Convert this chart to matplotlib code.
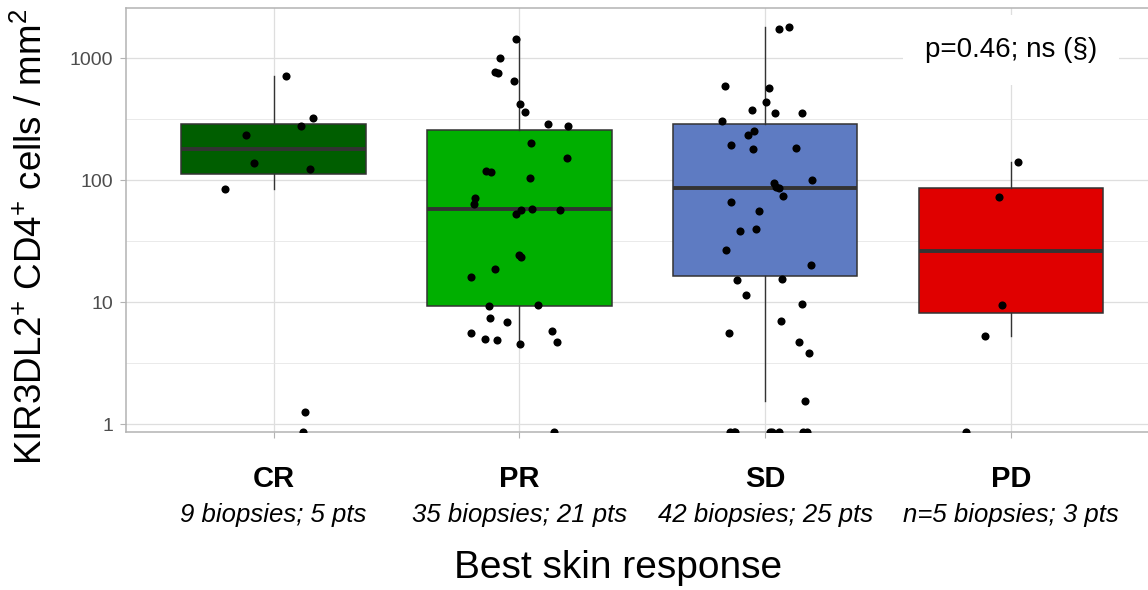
import numpy as np
import matplotlib.pyplot as plt
from matplotlib import cbook
from matplotlib.ticker import FixedLocator, NullFormatter

plt.rcParams['font.family'] = ['Liberation Sans', 'DejaVu Sans']
plt.rcParams['mathtext.fontset'] = 'custom'
plt.rcParams['mathtext.rm'] = 'Liberation Sans'
plt.rcParams['mathtext.it'] = 'Liberation Sans:italic'
plt.rcParams['mathtext.bf'] = 'Liberation Sans:bold'

# valeurs (0 = sous la limite, dessine en bas du panneau)
categories = ['CR', 'PR', 'SD', 'PD']
sublabels = ['9 biopsies; 5 pts', '35 biopsies; 21 pts',
             '42 biopsies; 25 pts', 'n=5 biopsies; 3 pts']
colors = ['#005E00', '#00AF00', '#5E7BC2', '#E00000']

cr_vals = [714, 324, 278, 235, 139, 124, 84, 1.25, 0]
pr_vals = [1441, 996, 751, 774, 646, 424, 362, 280, 289, 203, 152, 116, 119,
           105, 72, 64, 57, 53, 56.5, 58, 23.6, 24.4, 18.6, 16.1, 9.3, 9.5,
           7.45, 6.9, 5.6, 5.8, 5.0, 4.9, 4.7, 4.5, 0]
sd_vals = [1750, 1804, 588, 570, 435, 356, 376, 356, 304, 253, 235, 194, 183,
           180, 101, 94, 88, 85.5, 74, 66, 55.5, 38, 40, 27, 20.2, 15.1, 15.4,
           11.4, 9.6, 7.0, 5.6, 4.7, 3.8, 1.55, 0, 0, 0, 0, 0, 0, 0, 0]
pd_vals = [141, 72.8, 9.5, 5.24, 0]

p_text = 'p=0.46; ns (§)'
p_pos = (4, 1170)

ymin, ymax = 0.86, 2585
groups = [cr_vals, pr_vals, sd_vals, pd_vals]
positions = np.arange(1, len(categories) + 1)

fig = plt.figure(figsize=(11.48, 5.90), dpi=100)
ax = fig.add_axes([126 / 1148, 158 / 590, 1032.6 / 1148, 424 / 590])

# stats des boites calculees en log10 (comme scale_y_log10), zeros exclus
stats = []
for vals in groups:
    v = np.array(vals, dtype=float)
    st = cbook.boxplot_stats(np.log10(v[v > 0]), whis=1.5)[0]
    for k in ['med', 'q1', 'q3', 'whislo', 'whishi']:
        st[k] = 10 ** st[k]
    st['fliers'] = []
    stats.append(st)

bp = ax.bxp(stats, positions=positions, widths=0.75, patch_artist=True,
            showfliers=False, showcaps=False,
            boxprops=dict(edgecolor='#333333', linewidth=1.1),
            medianprops=dict(color='#333333', linewidth=2.8),
            whiskerprops=dict(color='#333333', linewidth=1.0))
for patch, c in zip(bp['boxes'], colors):
    patch.set_facecolor(c)

rng = np.random.default_rng(7)
for pos, vals in zip(positions, groups):
    v = np.array(vals, dtype=float)
    y = np.where(v > 0, v, ymin)
    x = pos + rng.uniform(-0.2, 0.2, len(v))
    ax.scatter(x, y, s=34, color='black', linewidths=0, zorder=4)

ax.set_yscale('log')
ax.set_ylim(ymin, ymax)
ax.set_xlim(0.4, 4.6)
ax.yaxis.set_major_locator(FixedLocator([1, 10, 100, 1000]))
ax.set_yticklabels(['1', '10', '100', '1000'])
ax.yaxis.set_minor_locator(FixedLocator([10 ** 0.5, 10 ** 1.5, 10 ** 2.5]))
ax.yaxis.set_minor_formatter(NullFormatter())
ax.set_xticks(positions)
ax.tick_params(axis='x', labelbottom=False, length=4.3, color='#B3B3B3', width=0.8)
ax.tick_params(axis='y', which='major', labelsize=14, labelcolor='#4D4D4D',
               length=4.3, color='#B3B3B3', width=0.8, pad=5)
ax.tick_params(axis='y', which='minor', length=0)

ax.set_axisbelow(True)
ax.grid(True, which='major', color='#DEDEDE', linewidth=0.9)
ax.grid(True, which='minor', axis='y', color='#E6E6E6', linewidth=0.6)
for s in ax.spines.values():
    s.set_color('#B3B3B3')
    s.set_linewidth(1.1)

ax.text(p_pos[0], p_pos[1], p_text, ha='center', va='center', fontsize=20,
        bbox=dict(boxstyle='square,pad=0.8', fc='white', ec='none'), zorder=5)

xt = ax.get_xaxis_transform()
for pos, cat, sub in zip(positions, categories, sublabels):
    ax.text(pos, -0.129, cat, transform=xt, ha='center', va='baseline',
            fontsize=21, fontweight='bold')
    ax.text(pos, -0.2116, sub, transform=xt, ha='center', va='baseline',
            fontsize=18.5, fontstyle='italic')

fig.text(0.5388, 0.0198, 'Best skin response', ha='center', va='baseline',
         fontsize=28)
fig.text(0.0274, 0.599, r'KIR3DL2$^{+}$ CD4$^{+}$ cells / mm$^{2}$',
         rotation=90, ha='center', va='center', fontsize=26.5)

fig.savefig('out.png', dpi=100)
